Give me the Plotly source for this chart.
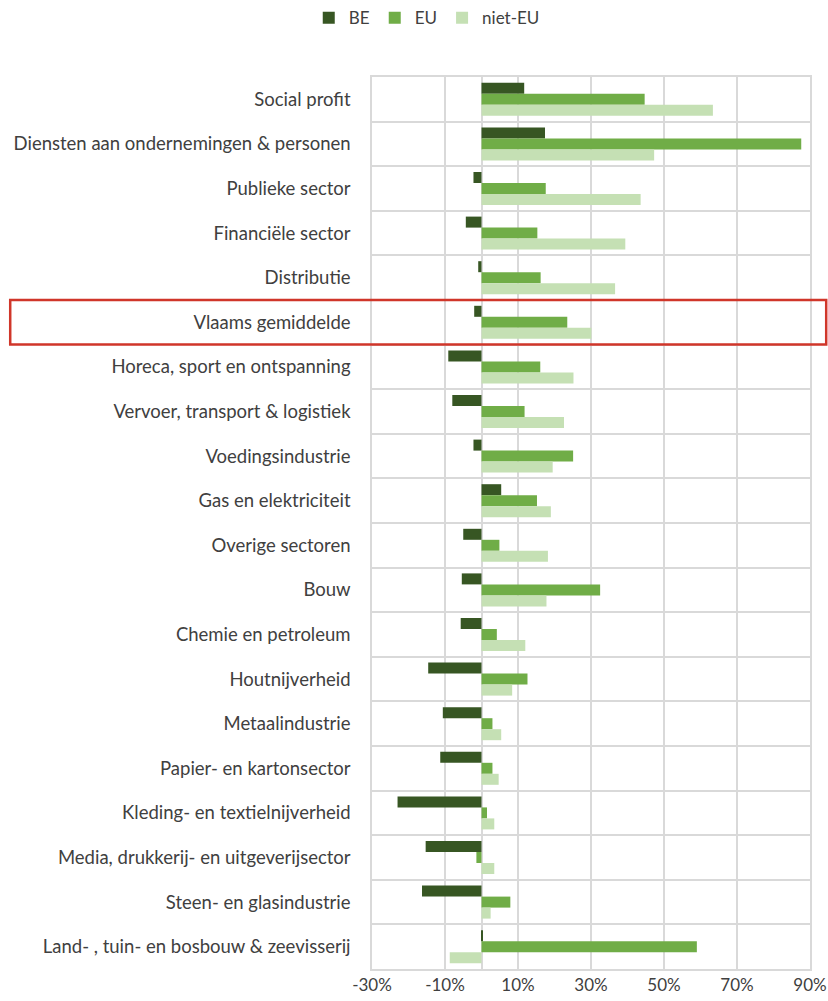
import plotly.graph_objects as go

categories = [
    "Social profit",
    "Diensten aan ondernemingen & personen",
    "Publieke sector",
    "Financiële sector",
    "Distributie",
    "Vlaams gemiddelde",
    "Horeca, sport en ontspanning",
    "Vervoer, transport & logistiek",
    "Voedingsindustrie",
    "Gas en elektriciteit",
    "Overige sectoren",
    "Bouw",
    "Chemie en petroleum",
    "Houtnijverheid",
    "Metaalindustrie",
    "Papier- en kartonsector",
    "Kleding- en textielnijverheid",
    "Media, drukkerij- en uitgeverijsector",
    "Steen- en glasindustrie",
    "Land- , tuin- en bosbouw & zeevisserij",
]

be = [11.7, 17.4, -2.2, -4.3, -0.9, -2.0, -9.1, -8.0, -2.2, 5.4,
      -5.0, -5.4, -5.7, -14.6, -10.6, -11.3, -23.0, -15.3, -16.3, 0.4]
eu = [44.7, 87.6, 17.6, 15.3, 16.2, 23.5, 16.1, 11.8, 25.1, 15.2,
      4.9, 32.5, 4.2, 12.6, 3.0, 3.0, 1.5, -1.4, 7.9, 59.0]
niet_eu = [63.4, 47.3, 43.6, 39.4, 36.6, 30.1, 25.2, 22.6, 19.5, 19.0,
           18.2, 17.8, 12.0, 8.4, 5.4, 4.7, 3.5, 3.5, 2.5, -8.7]

x_ticks = [-30, -10, 10, 30, 50, 70, 90]
x_ticktext = ["-30%", "-10%", "10%", "30%", "50%", "70%", "90%"]

series = [("BE", be, "#375623"), ("EU", eu, "#70ad47"), ("niet-EU", niet_eu, "#c5e0b4")]

highlight = "Vlaams gemiddelde"

fig = go.Figure()
for name, vals, col in series:
    fig.add_trace(go.Bar(
        y=categories, x=vals, name=name, orientation="h",
        marker=dict(color=col, line=dict(width=0)),
    ))

grid = "#d9d9d9"
fnt = "Lato, Open Sans, sans-serif"
txt = "#404040"
idx = categories.index(highlight)

fig.update_layout(
    template="none",
    width=828, height=1001,
    margin=dict(l=372, r=18, t=77, b=32, autoexpand=False),
    paper_bgcolor="white", plot_bgcolor="white",
    barmode="group", bargap=0.26, bargroupgap=0.0,
    font=dict(family=fnt, size=18, color=txt),
    legend=dict(orientation="h", x=0.125, xanchor="center",
                y=1.066, yanchor="middle", font=dict(size=17, color=txt),
                bgcolor="rgba(0,0,0,0)", itemwidth=30),
    xaxis=dict(range=[-30, 90], tickvals=x_ticks, ticktext=x_ticktext,
               automargin=False,
               showgrid=True, gridcolor=grid, gridwidth=1.5,
               zeroline=True, zerolinecolor=grid, zerolinewidth=1.5,
               showline=True, linecolor=grid, linewidth=1.5, mirror=True,
               ticks="", tickfont=dict(size=17, color=txt), fixedrange=True),
    yaxis=dict(type="category", autorange="reversed", tickson="boundaries",
               automargin=False,
               showgrid=True, gridcolor=grid, gridwidth=1.5,
               showline=True, linecolor=grid, linewidth=1.5, mirror=True,
               ticks="", ticklabelstandoff=16,
               tickfont=dict(size=18.5, color=txt)),
    shapes=[dict(type="rect", xref="paper", yref="y",
                 x0=-0.826, x1=1.037, y0=idx - 0.5, y1=idx + 0.5,
                 line=dict(color="#d0362a", width=2.5), fillcolor="rgba(0,0,0,0)",
                 layer="above")],
)

fig.write_html("out.html")
